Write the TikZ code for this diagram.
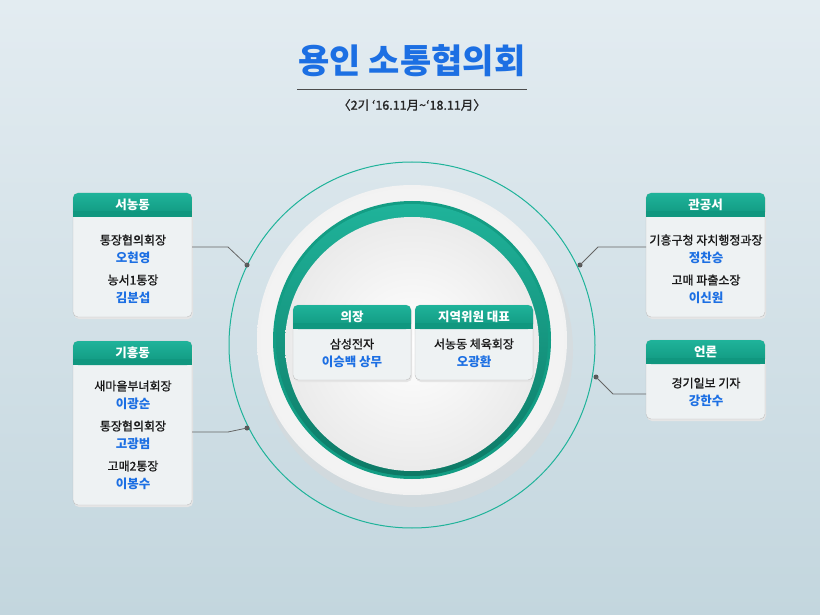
\documentclass[tikz,border=0pt]{standalone}
\usepackage{fontspec}
\setmainfont{Noto Sans CJK KR}
\newfontfamily\rolefont[FakeBold=1.2]{Noto Sans CJK KR}
\usetikzlibrary{positioning}
\definecolor{teal1}{HTML}{1FB39A}
\definecolor{teal2}{HTML}{10977F}
\definecolor{nameblue}{HTML}{1C6FE3}
\definecolor{bg1}{HTML}{E3ECF1}
\definecolor{bg2}{HTML}{C3D6DE}
\definecolor{boxbg}{HTML}{EEF2F3}
\tikzset{
 x=1pt,y=-1pt,
 hdr/.style={font=\bfseries\fontsize{12.5}{14}\selectfont,text=white},
 role/.style={font=\rolefont\fontsize{12}{13}\selectfont,text=black!90},
 nm/.style={font=\bfseries\fontsize{12.5}{14}\selectfont,text=nameblue},
 conn/.style={draw=black!60,line width=0.8pt},
 dot/.style={circle,fill=black!65,inner sep=0pt,minimum size=5pt}
}
\newcommand{\orgbox}[6]{% name x1 y1 x2 y2 header
 \fill[black!10,rounded corners=5pt] (#2+1,#3+2) rectangle (#4+1,#5+2);
 \fill[boxbg,draw=black!25,rounded corners=5pt] (#2,#3) rectangle (#4,#5);
 \shade[top color=teal1,bottom color=teal2,rounded corners=5pt] (#2,#3) rectangle (#4,#3+24);
 \fill[teal2] (#2,#3+18) rectangle (#4,#3+24);
 \node[hdr] (#1) at ({(#2+#4)/2},#3+12) {#6};
}
\begin{document}
\begin{tikzpicture}
\shade[top color=bg1,bottom color=bg2] (0,0) rectangle (820,615);
\useasboundingbox (0,0) rectangle (820,615);
% title
\node[font=\bfseries\fontsize{34}{36}\selectfont,text=nameblue] (title) at (412,61) {용인 소통협의회};
\draw[black!70,line width=0.8pt] (297,89) -- (527,89);
\node[font=\rolefont\fontsize{12.5}{14}\selectfont,text=black!85] (sub) at (412,105) {〈2기 ‘16.11月\textasciitilde‘18.11月〉};
% circles
\draw[teal1,line width=1pt] (412,345) circle (183);
\fill[black!15,opacity=0.5] (416,350) circle (157);
\shade[inner color=white,outer color=black!5] (412,340) circle (155);
\fill[teal2!80!teal1] (412,340) circle (139);
\shade[top color=teal1,bottom color=teal2!80!black] (412,340) circle (136);
\shade[inner color=white,outer color=black!8] (412,344) circle (127);
% center boxes
\orgbox{chair}{293}{305}{411}{380}{의장}
\node[role] (c1) at (352,344) {삼성전자};
\node[nm] (c2) at (352,362) {이승백 상무};
\orgbox{rep}{415}{305}{533}{380}{지역위원 대표}
\node[role] (r1) at (474,344) {서농동 체육회장};
\node[nm] (r2) at (474,362) {오광환};
% left boxes
\orgbox{seo}{73}{193}{192}{317}{서농동}
\node[role] at (133,240) {통장협의회장};
\node[nm] at (133,258) {오현영};
\node[role] at (133,280) {농서1통장};
\node[nm] at (133,298) {김분섭};
\orgbox{gi}{73}{341}{192}{505}{기흥동}
\node[role] at (133,386) {새마을부녀회장};
\node[nm] at (133,404) {이광순};
\node[role] at (133,426) {통장협의회장};
\node[nm] at (133,444) {고광범};
\node[role] at (133,466) {고매2통장};
\node[nm] at (133,484) {이봉수};
% right boxes
\orgbox{gov}{646}{193}{765}{317}{관공서}
\node[role] at (706,240) {기흥구청 자치행정과장};
\node[nm] at (706,258) {정찬승};
\node[role] at (706,280) {고매 파출소장};
\node[nm] at (706,298) {이신원};
\orgbox{press}{646}{340}{765}{419}{언론}
\node[role] at (706,383) {경기일보 기자};
\node[nm] at (706,401) {강한수};
% connectors
\node[dot] (d1) at (247,265) {};
\node[dot] (d2) at (247,428) {};
\node[dot] (d3) at (580,265) {};
\node[dot] (d4) at (596,377) {};
\coordinate (s1) at (192,247); \coordinate (s2) at (192,432);
\coordinate (s3) at (646,247); \coordinate (s4) at (646,394);
\draw[conn] (s1) -- (228,247) -- (d1.center);
\draw[conn] (s2) -- (228,432) -- (d2.center);
\draw[conn] (d3.center) -- (598,247) -- (s3);
\draw[conn] (d4.center) -- (613,394) -- (s4);
\end{tikzpicture}
\end{document}
